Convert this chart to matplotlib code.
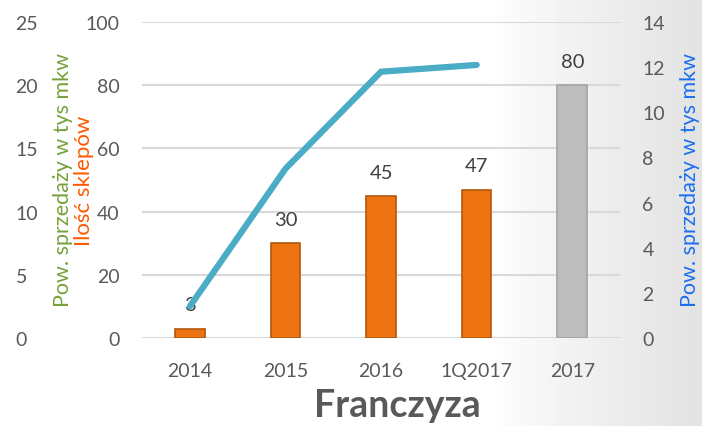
import matplotlib.pyplot as plt
import numpy as np

plt.rcParams['font.family'] = ['Lato', 'DejaVu Sans']

categories = ['2014', '2015', '2016', '1Q2017', '2017']
stores = [3, 30, 45, 47, 80]
bar_colors = ['#ee7411', '#ee7411', '#ee7411', '#ee7411', '#bdbdbd']
edge_colors = ['#b3570d', '#b3570d', '#b3570d', '#b3570d', '#a3a3a3']
area = [1.4, 7.5, 11.8, 12.1]  # tys mkw, right axis

tick_col = '#595959'

fig = plt.figure(figsize=(7.02, 4.27), dpi=100)

# background: white fading to light grey on the right
bg = fig.add_axes([0, 0, 1, 1], zorder=-10)
grad = np.clip((np.linspace(0, 1, 400) - 0.7) / 0.3, 0, 1) ** 0.8
bg.imshow(np.tile(1 - 0.11 * grad, (10, 1)), cmap='gray', vmin=0, vmax=1,
          aspect='auto', extent=[0, 1, 0, 1])
bg.axis('off')

ax = fig.add_axes([0.2023, 0.206, 0.681, 0.74])
ax.patch.set_alpha(0)
x = np.arange(len(categories))
bars = ax.bar(x, stores, width=0.31, color=bar_colors, edgecolor=edge_colors,
              linewidth=1.2, zorder=3)
for b, v in zip(bars, stores):
    ax.annotate(str(v), (b.get_x() + b.get_width() / 2, v), xytext=(0, 17),
                textcoords='offset points', ha='center', va='center',
                fontsize=14.5, color='#404040', zorder=6)

ax.set_ylim(0, 100)
ax.set_yticks(range(0, 101, 20))
ax.set_xlim(-0.5, 4.5)
ax.set_xticks(x)
ax.set_xticklabels(categories)
ax.yaxis.grid(True, color='#d9d9d9', lw=1.5, zorder=0)
ax.set_axisbelow(True)
for s in ax.spines.values():
    s.set_visible(False)
ax.tick_params(axis='both', length=0, labelsize=14, colors=tick_col)
ax.tick_params(axis='y', pad=16)
ax.tick_params(axis='x', pad=17)

# right axis: line
axr = ax.twinx()
axr.plot(x[:len(area)], area, color='#4bacc6', lw=4.5, solid_capstyle='round',
         solid_joinstyle='miter', zorder=5)
axr.set_ylim(0, 14)
axr.set_yticks(range(0, 15, 2))
for s in axr.spines.values():
    s.set_visible(False)
axr.tick_params(axis='y', length=0, labelsize=14, colors=tick_col, pad=16)

# outer left axis 0-25
axo = ax.twinx()
axo.set_ylim(0, 25)
axo.set_yticks(range(0, 26, 5))
axo.yaxis.tick_left()
for s in axo.spines.values():
    s.set_visible(False)
axo.tick_params(axis='y', length=0, labelsize=14, colors=tick_col, pad=91)
for t in axo.get_yticklabels():
    t.set_horizontalalignment('left')
axo.set_zorder(-1)

fig.text(63 / 702, 1 - 180 / 427, 'Pow. sprzedaży w tys mkw', rotation=90,
         ha='center', va='center', color='#77a03a', fontsize=15.5)
fig.text(84 / 702, 1 - 181 / 427, 'Ilość sklepów', rotation=90,
         ha='center', va='center', color='#ff5a00', fontsize=16)
fig.text(690 / 702, 1 - 180 / 427, 'Pow. sprzedaży w tys mkw', rotation=90,
         ha='center', va='center', color='#1a6ff0', fontsize=15.5)
fig.text(397 / 702, 1 - 406 / 427, 'Franczyza', ha='center', va='center',
         fontsize=27, fontweight='bold', color='#595959')

fig.savefig('out.png', dpi=100)
